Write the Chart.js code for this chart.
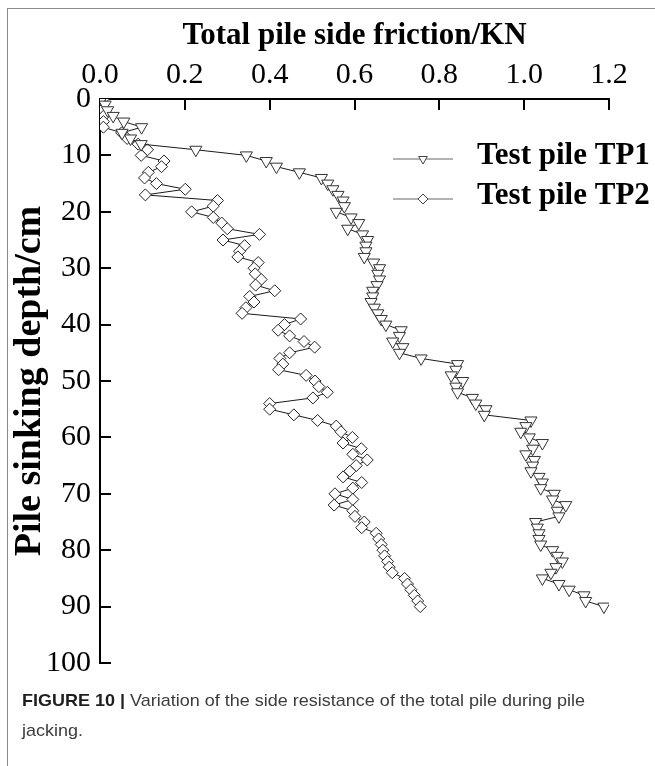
<!DOCTYPE html>
<html>
<head>
<meta charset="utf-8">
<script src="https://cdn.jsdelivr.net/npm/chart.js@4.4.1/dist/chart.umd.min.js"></script>
<style>
  html, body { margin: 0; padding: 0; background: #fff; }
  body { width: 655px; height: 766px; position: relative; overflow: hidden; }
  #frame { position: absolute; left: 7px; top: 8px; width: 700px; height: 800px;
           border-left: 1px solid #8a8a8a; border-top: 1px solid #8a8a8a; }
  #c { position: absolute; left: 0; top: 0; }
  #caption { position: absolute; left: 22px; top: 686px; font-family: "Liberation Sans", Arial, sans-serif;
             font-size: 17px; line-height: 30px; color: #3c3c3c; white-space: nowrap; transform-origin: 0 0; }
  #caption b { color: #1e1e1e; }
</style>
</head>
<body>
<div id="frame"></div>
<canvas id="c" width="655" height="766"></canvas>
<div id="caption"><span id="cap1"><b>FIGURE 10 |</b> Variation of the side resistance of the total pile during pile</span><br><span id="cap2">jacking.</span></div>
<script>
// ---- data ----
const depthCm = [0,1,2,3,4,5,6,7,8,9,10,11,12,13,14,15,16,17,18,19,20,21,22,23,24,25,26,27,28,29,30,
  31,32,33,34,35,36,37,38,39,40,41,42,43,44,45,46,47,48,49,50,51,52,53,54,55,56,57,58,59,60,
  61,62,63,64,65,66,67,68,69,70,71,72,73,74,75,76,77,78,79,80,81,82,83,84,85,86,87,88,89,90];

const tp1Friction = [0.004,0.012,0.018,0.031,0.056,0.098,0.052,0.072,0.097,0.226,0.345,
  0.392,0.416,0.470,0.522,0.537,0.549,0.561,0.573,0.576,0.557,
  0.592,0.610,0.584,0.619,0.631,0.627,0.627,0.623,0.645,0.659,
  0.655,0.659,0.653,0.643,0.643,0.639,0.647,0.655,0.663,0.674,
  0.710,0.706,0.690,0.714,0.706,0.757,0.843,0.839,0.828,0.855,
  0.839,0.843,0.878,0.886,0.910,0.906,1.016,1.004,0.992,1.012,
  1.043,1.020,1.004,1.024,1.020,1.016,1.035,1.043,1.039,1.071,
  1.067,1.098,1.078,1.082,1.027,1.031,1.035,1.035,1.039,1.067,
  1.078,1.090,1.075,1.063,1.043,1.082,1.106,1.141,1.145,1.188];

const tp2Friction = [0.008,0.008,0.004,0.009,0.008,0.008,0.051,0.064,0.090,0.112,0.097,
  0.151,0.145,0.114,0.105,0.133,0.201,0.107,0.277,0.267,0.216,
  0.267,0.287,0.300,0.376,0.290,0.341,0.329,0.325,0.373,0.363,
  0.366,0.380,0.367,0.412,0.353,0.363,0.344,0.335,0.473,0.435,
  0.420,0.447,0.481,0.506,0.447,0.424,0.431,0.421,0.486,0.507,
  0.516,0.536,0.502,0.400,0.400,0.457,0.513,0.557,0.568,0.595,
  0.573,0.616,0.596,0.630,0.604,0.589,0.573,0.617,0.596,0.554,
  0.596,0.552,0.596,0.601,0.623,0.617,0.651,0.657,0.663,0.667,
  0.671,0.678,0.682,0.689,0.718,0.725,0.733,0.741,0.749,0.755];

const seriesNames = ["Test pile TP1", "Test pile TP2"];
const xTickValues = [0.0, 0.2, 0.4, 0.6, 0.8, 1.0, 1.2];
const yTickValues = [0, 10, 20, 30, 40, 50, 60, 70, 80, 90, 100];
const xAxisTitle = "Total pile side friction/KN";
const yAxisTitle = "Pile sinking depth/cm";

// ---- build points ----
const tp1Points = depthCm.map((d, i) => ({ x: tp1Friction[i], y: d }));
const tp2Points = depthCm.map((d, i) => ({ x: tp2Friction[i], y: d }));

const SERIF = '"Liberation Serif", "Times New Roman", serif';

const inwardTicks = {
  id: 'inwardTicks',
  beforeDatasetsDraw(chart) {
    const { ctx, scales: { x, y }, chartArea } = chart;
    ctx.save();
    ctx.strokeStyle = '#000';
    ctx.lineWidth = 2;
    x.ticks.forEach(t => {
      const px = Math.round(x.getPixelForValue(t.value));
      ctx.beginPath(); ctx.moveTo(px, chartArea.top); ctx.lineTo(px, chartArea.top + 11); ctx.stroke();
    });
    y.ticks.forEach(t => {
      const py = Math.round(y.getPixelForValue(t.value));
      ctx.beginPath(); ctx.moveTo(chartArea.left, py); ctx.lineTo(chartArea.left + 11, py); ctx.stroke();
    });
    ctx.restore();
  }
};

const innerLegend = {
  id: 'innerLegend',
  afterDatasetsDraw(chart) {
    const ctx = chart.ctx;
    const rows = [159, 199];
    ctx.save();
    chart.data.datasets.forEach((ds, i) => {
      const yy = rows[i];
      ctx.strokeStyle = '#666';
      ctx.lineWidth = 1;
      ctx.beginPath(); ctx.moveTo(393, yy); ctx.lineTo(453, yy); ctx.stroke();
      ctx.fillStyle = '#fff';
      ctx.strokeStyle = '#444';
      Chart.helpers.drawPoint(ctx, { pointStyle: ds.pointStyle, rotation: ds.pointRotation || 0,
        radius: 5, borderWidth: 1 }, 423, yy);
      ctx.fillStyle = '#000';
      ctx.font = 'bold 31px ' + SERIF;
      ctx.textBaseline = 'alphabetic';
      ctx.textAlign = 'left';
      ctx.fillText(ds.label, 477, yy + 5);
    });
    ctx.restore();
  }
};

new Chart(document.getElementById('c'), {
  type: 'scatter',
  data: {
    datasets: [
      { label: seriesNames[0], data: tp1Points, showLine: true,
        borderColor: '#1a1a1a', borderWidth: 1, backgroundColor: '#fff',
        pointStyle: 'triangle', pointRotation: 180, pointRadius: 7,
        pointBorderColor: '#333', pointBackgroundColor: '#fff', pointBorderWidth: 1 },
      { label: seriesNames[1], data: tp2Points, showLine: true,
        borderColor: '#1a1a1a', borderWidth: 1, backgroundColor: '#fff',
        pointStyle: 'rectRot', pointRadius: 6,
        pointBorderColor: '#222', pointBackgroundColor: '#fff', pointBorderWidth: 1 }
    ]
  },
  options: {
    responsive: false,
    devicePixelRatio: 1,
    animation: false,
    events: [],
    layout: { padding: { left: 0, top: 0, right: 46, bottom: 103 } },
    plugins: { legend: { display: false }, tooltip: { enabled: false }, title: { display: false } },
    scales: {
      x: {
        type: 'linear', position: 'top', min: 0, max: 1.2,
        afterBuildTicks: s => { s.ticks = xTickValues.map(v => ({ value: v })); },
        afterFit: s => { s.height = 99; },
        ticks: { color: '#000', font: { family: SERIF, size: 30 }, padding: 6,
                 maxRotation: 0, callback: v => Number(v).toFixed(1) },
        grid: { display: true, drawOnChartArea: false, drawTicks: false },
        border: { display: true, color: '#000', width: 2 },
        title: { display: true, text: xAxisTitle, color: '#000',
                 font: { family: SERIF, size: 31, weight: 'bold' }, padding: { top: 17, bottom: 0 } }
      },
      y: {
        type: 'linear', reverse: true, min: 0, max: 100,
        afterBuildTicks: s => { s.ticks = yTickValues.map(v => ({ value: v })); },
        afterFit: s => { s.width = 100; },
        ticks: { color: '#000', font: { family: SERIF, size: 30 }, padding: 9 },
        grid: { display: true, drawOnChartArea: false, drawTicks: false },
        border: { display: true, color: '#000', width: 2 },
        title: { display: true, text: yAxisTitle, color: '#000',
                 font: { family: SERIF, size: 38, weight: 'bold' }, padding: { top: 7, bottom: 0 } }
      }
    }
  },
  plugins: [inwardTicks, innerLegend]
});

// fit caption line width to reference (~563 px)
const cap = document.getElementById('caption');
const w = document.getElementById('cap1').getBoundingClientRect().width;
cap.style.transform = 'scaleX(' + (563 / w) + ')';
</script>
</body>
</html>
